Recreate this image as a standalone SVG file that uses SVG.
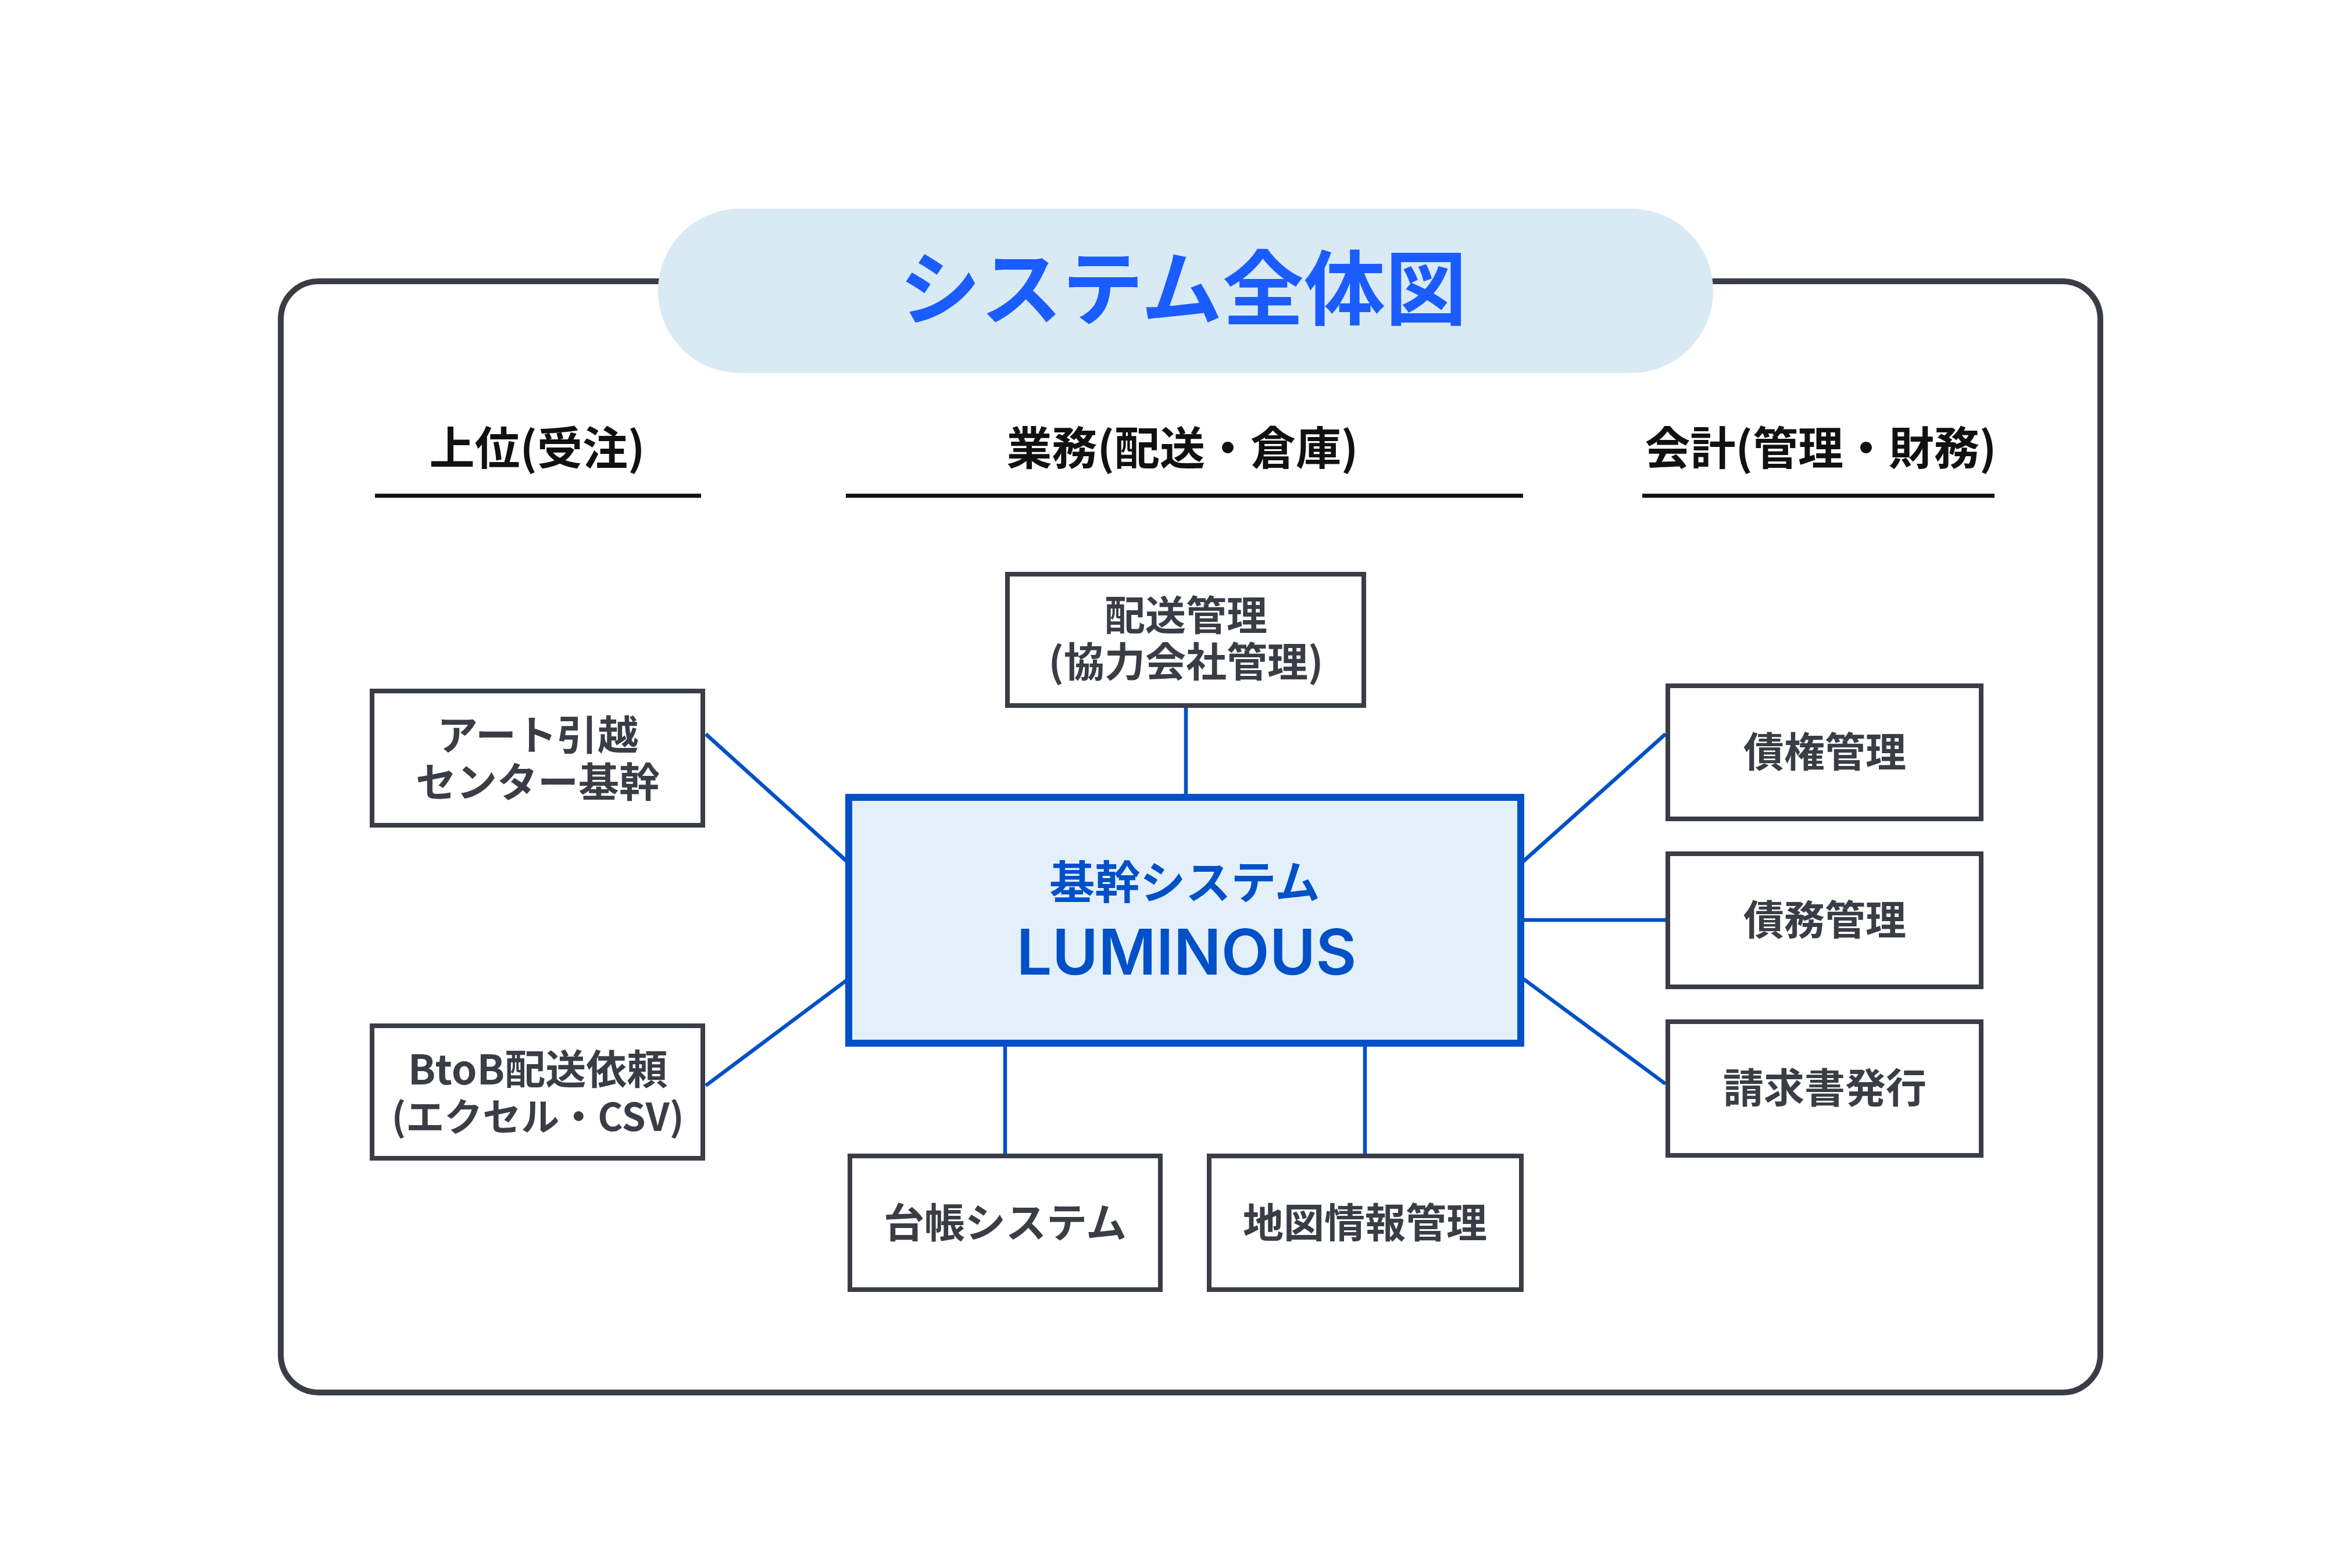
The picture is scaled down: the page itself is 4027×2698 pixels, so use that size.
<svg xmlns="http://www.w3.org/2000/svg" width="4027" height="2698" viewBox="0 0 4027 2698">
<style>
.jp{font-family:"Noto Sans CJK JP","Noto Sans",sans-serif;font-weight:700;text-anchor:middle}
.hdr{font-size:78px;fill:#111111}
.lbl{font-size:70px;fill:#3a3d45}
.box{fill:#ffffff;stroke:#3a3d45;stroke-width:8}
.hl{stroke:#111111;stroke-width:7}
.conn{stroke:#0050c8;stroke-width:6.5;fill:none}
</style>
<rect width="4027" height="2698" fill="#ffffff"/>
<g id="frame">
<rect x="483" y="484" width="3130" height="1912" rx="65" ry="65" fill="none" stroke="#3a3d45" stroke-width="10"/>
</g>
<g id="title">
<rect x="1132" y="359" width="1815" height="283" rx="141" ry="141" fill="#daeaf4"/>
<text class="jp" x="2035" y="548" font-size="140" fill="#1a5cff">システム全体図</text>
</g>
<g id="headers">
<text class="jp hdr" x="924" y="800">上位(受注)</text>
<line class="hl" x1="645" y1="853" x2="1206" y2="853"/>
<text class="jp hdr" x="2034" y="800">業務(配送・倉庫)</text>
<line class="hl" x1="1455" y1="853" x2="2620" y2="853"/>
<text class="jp hdr" x="3132" y="800">会計(管理・財務)</text>
<line class="hl" x1="2825" y1="853" x2="3431" y2="853"/>
</g>
<g id="connectors">
<line class="conn" x1="2040" y1="1218" x2="2040" y2="1372"/>
<line class="conn" x1="1214" y1="1263" x2="1460" y2="1485"/>
<line class="conn" x1="1214" y1="1868" x2="1460" y2="1684"/>
<line class="conn" x1="1729" y1="1795" x2="1729" y2="1989"/>
<line class="conn" x1="2348" y1="1795" x2="2348" y2="1989"/>
<line class="conn" x1="2616" y1="1486" x2="2865" y2="1263"/>
<line class="conn" x1="2616" y1="1583" x2="2865" y2="1583"/>
<line class="conn" x1="2616" y1="1681" x2="2865" y2="1865"/>
</g>
<g id="node-center">
<rect x="1460" y="1372" width="1156" height="423" fill="#e3f0fb" stroke="#0050c8" stroke-width="12"/>
<text class="jp" x="2038" y="1547" font-size="78" fill="#0050c8">基幹システム</text>
<text x="2041" y="1677" font-family="Inter,'Noto Sans',sans-serif" font-weight="600" font-size="108" fill="#0050c8" text-anchor="middle">LUMINOUS</text>
</g>
<g id="node-haiso">
<rect class="box" x="1733" y="988" width="613" height="226"/>
<text class="jp lbl" x="2040" y="1085">配送管理</text>
<text class="jp lbl" x="2040" y="1165">(協力会社管理)</text>
</g>
<g id="node-art">
<rect class="box" x="640" y="1189" width="569" height="231"/>
<text class="jp lbl" x="925" y="1291">アート引越</text>
<text class="jp lbl" x="925" y="1372">センター基幹</text>
</g>
<g id="node-btob">
<rect class="box" x="640" y="1765" width="569" height="228"/>
<text class="jp lbl" x="925" y="1866" font-size="71">BtoB配送依頼</text>
<text class="jp lbl" x="925" y="1946" style="font-size:66px">(エクセル・CSV)</text>
</g>
<g id="node-daicho">
<rect class="box" x="1462" y="1989" width="534" height="230"/>
<text class="jp lbl" x="1729" y="2130">台帳システム</text>
</g>
<g id="node-chizu">
<rect class="box" x="2080" y="1989" width="537" height="230"/>
<text class="jp lbl" x="2348" y="2130">地図情報管理</text>
</g>
<g id="node-saiken">
<rect class="box" x="2869" y="1180" width="539" height="229"/>
<text class="jp lbl" x="3139" y="1320">債権管理</text>
</g>
<g id="node-saimu">
<rect class="box" x="2869" y="1469" width="539" height="229"/>
<text class="jp lbl" x="3139" y="1609">債務管理</text>
</g>
<g id="node-seikyu">
<rect class="box" x="2869" y="1758" width="539" height="230"/>
<text class="jp lbl" x="3139" y="1898">請求書発行</text>
</g>
</svg>
